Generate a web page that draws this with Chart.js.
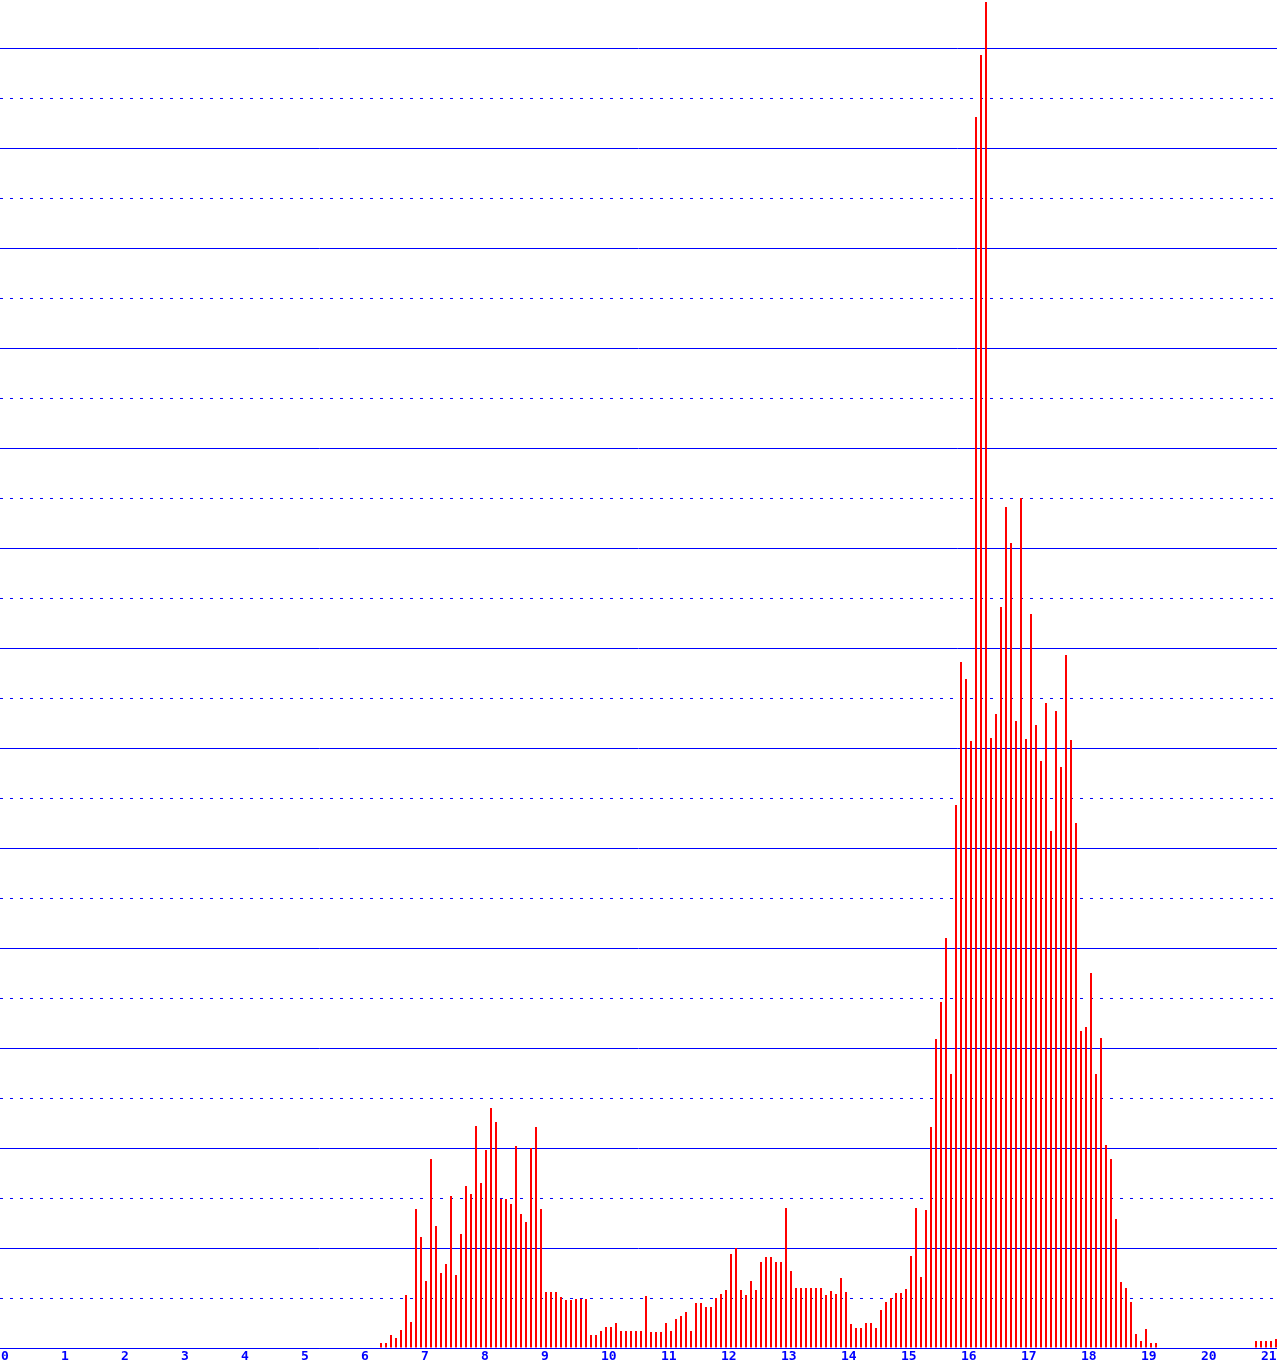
<!DOCTYPE html>
<html>
<head>
<meta charset="utf-8">
<script src="https://cdn.jsdelivr.net/npm/chart.js@4/dist/chart.umd.min.js"></script>
<style>
  html, body { margin: 0; padding: 0; background: #fff; }
  #c { display: block; }
</style>
</head>
<body>
<canvas id="c" width="1277" height="1368"></canvas>
<script>
// 5-minute bins (12 per hour), first non-empty bin is 6:20
const firstBin = 76;
const binsPerHour = 12;

const counts = [
    5, 5, 13, 10, 18, 53, 26, 139, 111, 67, 189, 122,          // 6:20 - 7:15
    75, 84, 152, 73, 114, 162, 154, 222, 165, 198, 240, 226,   // 7:20 - 8:15
    149, 149, 144, 202, 134, 126, 200, 221, 139, 56, 56, 56,   // 8:20 - 9:15
    51, 48, 48, 49, 49, 49, 13, 13, 17, 21, 21, 25,            // 9:20 - 10:15
    17, 17, 17, 17, 17, 52, 16, 16, 16, 25, 17, 29,            // 10:20 - 11:15
    32, 36, 17, 45, 45, 41, 41, 50, 54, 58, 94, 100,           // 11:20 - 12:15
    58, 53, 67, 58, 86, 91, 91, 86, 86, 140, 77, 60,           // 12:20 - 13:15
    60, 60, 60, 60, 60, 53, 57, 54, 70, 56, 24, 20,            // 13:20 - 14:15
    20, 25, 25, 20, 38, 46, 50, 55, 55, 59, 92, 140,           // 14:20 - 15:15
    71, 138, 221, 309, 346, 410, 274, 543, 686, 669, 607, 1231, // 15:20 - 16:15
    1293, 1346, 610, 634, 741, 841, 805, 627, 850, 609, 734, 623, // 16:20 - 17:15
    587, 645, 517, 637, 581, 693, 608, 525, 317, 321, 375, 274, // 17:20 - 18:15
    310, 203, 189, 129, 66, 60, 46, 14, 7, 19, 5, 5,           // 18:20 - 19:15
    0, 0, 0, 0, 0, 0, 0, 0, 0, 0, 0, 0,                        // 19:20 - 20:15
    0, 0, 0, 0, 0, 0, 0, 7, 7, 7, 7, 9                         // 20:20 - 21:15
];

const hourLabels = ['0', '1', '2', '3', '4', '5', '6', '7', '8', '9', '10',
    '11', '12', '13', '14', '15', '16', '17', '18', '19', '20', '21'];

const binHours = counts.map((_, k) => (firstBin + k) / binsPerHour);

const BLUE = '#0000ff';
const RED = '#ff0000';

const points = counts.map((v, k) => ({ x: binHours[k], y: v }));

// y carries the solid lines (every 100), y2 is the same range shifted by
// half a step so its dashed lines fall in between.
// the tiny extra on top keeps float rounding from pulling lines up a pixel
const yTop = 1348.001;
const gridStep = 100;

new Chart(document.getElementById('c').getContext('2d'), {
    type: 'bar',
    data: {
        datasets: [{
            data: points,
            backgroundColor: RED,
            borderWidth: 0,
            inflateAmount: 0,
            barThickness: 2
        }]
    },
    options: {
        responsive: false,
        animation: false,
        devicePixelRatio: 1,
        layout: { padding: { left: 0, right: 0, top: 0, bottom: 3.4 } },
        plugins: {
            legend: { display: false },
            tooltip: { enabled: false }
        },
        scales: {
            x: {
                type: 'linear',
                offset: false,
                min: -1 / 60,
                max: 1276 / 60,
                grid: { display: false, drawTicks: true, tickLength: 1, offset: false },
                border: { display: true, color: BLUE, width: 1 },
                ticks: {
                    stepSize: 1,
                    includeBounds: false,
                    autoSkip: false,
                    maxRotation: 0,
                    align: 'start',
                    padding: 0,
                    color: BLUE,
                    font: { family: 'DejaVu Sans Mono', size: 13, weight: 'bold' },
                    callback: (v) => hourLabels[v]
                }
            },
            y: {
                type: 'linear',
                position: 'left',
                min: 0,
                max: yTop,
                border: { display: false },
                grid: { drawTicks: false, color: BLUE, lineWidth: 1 },
                ticks: { display: false, stepSize: gridStep, includeBounds: false }
            },
            y2: {
                type: 'linear',
                position: 'left',
                min: -gridStep / 2,
                max: yTop - gridStep / 2,
                border: { display: false, dash: [3, 7] },
                grid: { drawTicks: false, color: BLUE, lineWidth: 1 },
                ticks: { display: false, stepSize: gridStep, includeBounds: false }
            }
        }
    }
});
</script>
</body>
</html>
